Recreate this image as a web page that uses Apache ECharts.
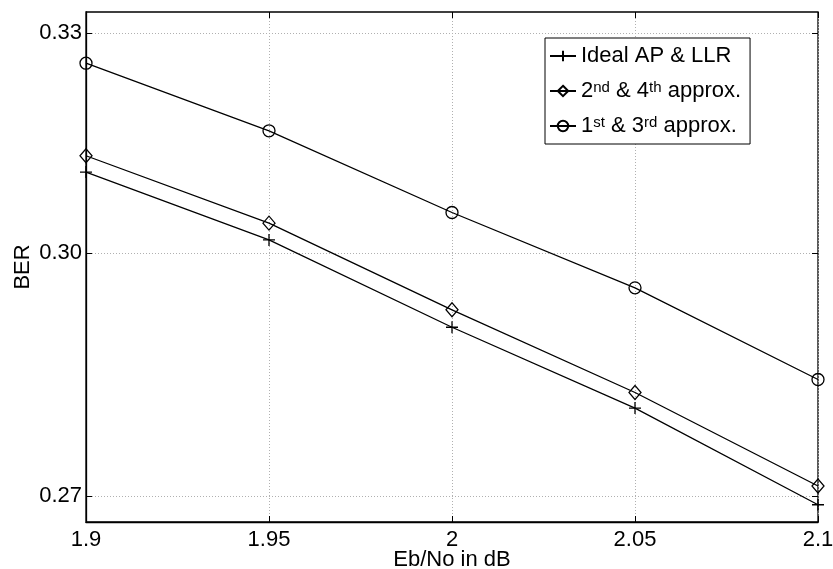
<!DOCTYPE html>
<html>
<head>
<meta charset="utf-8">
<script src="https://cdn.jsdelivr.net/npm/echarts@6/dist/echarts.min.js"></script>
<style>
html,body{margin:0;padding:0;background:#fff;}
#chart{width:833px;height:569px;}
</style>
</head>
<body>
<div id="chart"></div>
<script>
const ebno = [1.9, 1.95, 2.0, 2.05, 2.1];
const berIdeal = [0.3107, 0.3017, 0.2905, 0.2805, 0.2690];
const berApprox24 = [0.3129, 0.3039, 0.2927, 0.2824, 0.2712];
const berApprox13 = [0.3257, 0.3163, 0.3053, 0.2955, 0.2840];
const yTicks = [0.27, 0.30, 0.33];
const seriesNames = ['Ideal AP & LLR', '2nd & 4th approx.', '1st & 3rd approx.'];

const FONT = "'Liberation Sans', Arial, Helvetica, sans-serif";
const pairs = (ys) => ebno.map((x, i) => [x, ys[i]]);
const plusPath = 'path://M5,0L5,10M0,5L10,5';

const chart = echarts.init(document.getElementById('chart'));
const lineStyle = {color: '#000', width: 1.3};
const mkSeries = (name, data, symbol, size) => ({
  name: name,
  type: 'line',
  data: pairs(data),
  symbol: symbol,
  symbolSize: size,
  showAllSymbol: true,
  lineStyle: lineStyle,
  itemStyle: {color: 'rgba(0,0,0,0)', borderColor: '#000', borderWidth: 1.3},
  emphasis: {disabled: true},
  animation: false,
  z: 3
});

chart.setOption({
  animation: false,
  backgroundColor: '#fff',
  grid: {left: 86, right: 15, top: 12, bottom: 47, show: true, borderColor: '#000', borderWidth: 1.3,
    backgroundColor: 'transparent', containLabel: false, outerBoundsMode: 'none'},
  legend: {
    data: seriesNames,
    orient: 'vertical',
    left: 545,
    top: 38,
    itemWidth: 26,
    itemHeight: 13,
    itemGap: 13,
    padding: [7, 9, 7, 4],
    backgroundColor: '#fff',
    borderColor: '#000',
    borderWidth: 1,
    formatter: function (name) {
      if (name === seriesNames[1]) return '2{sup|nd} & 4{sup|th} approx.';
      if (name === seriesNames[2]) return '1{sup|st} & 3{sup|rd} approx.';
      return name;
    },
    textStyle: {
      fontFamily: FONT, fontSize: 22, color: '#000',
      rich: {sup: {fontFamily: FONT, fontSize: 15, color: '#000', verticalAlign: 'top', lineHeight: 15}}
    }
  },
  xAxis: [{
    type: 'value',
    min: 1.9, max: 2.1, interval: 0.05,
    name: 'Eb/No in dB',
    nameLocation: 'middle',
    nameGap: 27,
    nameMoveOverlap: false,
    nameTextStyle: {fontFamily: FONT, fontSize: 22, color: '#000'},
    axisLine: {show: true, lineStyle: {color: '#000', width: 1.3}},
    axisTick: {show: true, inside: true, length: 6, lineStyle: {color: '#000', width: 1}},
    axisLabel: {fontFamily: FONT, fontSize: 22, color: '#000', margin: 7,
      formatter: v => String(+v.toFixed(2))},
    splitLine: {show: true, lineStyle: {color: '#b0b0b0', type: [1, 2], width: 1}}
  }, {
    type: 'value', position: 'top',
    min: 1.9, max: 2.1, interval: 0.05,
    axisLine: {show: false},
    axisTick: {show: true, inside: true, length: 6, lineStyle: {color: '#000', width: 1}},
    axisLabel: {show: false},
    splitLine: {show: false}
  }],
  yAxis: [{
    type: 'log',
    min: 0.267, max: 0.333,
    name: 'BER',
    nameLocation: 'middle',
    nameGap: 52,
    nameMoveOverlap: false,
    nameTextStyle: {fontFamily: FONT, fontSize: 22, color: '#000'},
    axisLine: {show: true, lineStyle: {color: '#000', width: 1.3}},
    axisTick: {show: true, inside: true, length: 6, customValues: yTicks, lineStyle: {color: '#000', width: 1}},
    axisLabel: {fontFamily: FONT, fontSize: 22, color: '#000', margin: 4, customValues: yTicks,
      formatter: v => Number(v).toFixed(2)},
    splitLine: {show: true, lineStyle: {color: '#b0b0b0', type: [1, 2], width: 1}},
    minorTick: {show: false},
    minorSplitLine: {show: false}
  }, {
    type: 'log', position: 'right',
    min: 0.267, max: 0.333,
    axisLine: {show: false},
    axisTick: {show: true, inside: true, length: 6, customValues: yTicks, lineStyle: {color: '#000', width: 1}},
    axisLabel: {show: false, customValues: yTicks},
    splitLine: {show: false}
  }],
  series: [
    mkSeries(seriesNames[0], berIdeal, plusPath, 12),
    mkSeries(seriesNames[1], berApprox24, 'diamond', [12, 14]),
    mkSeries(seriesNames[2], berApprox13, 'circle', 12)
  ]
});
</script>
</body>
</html>
